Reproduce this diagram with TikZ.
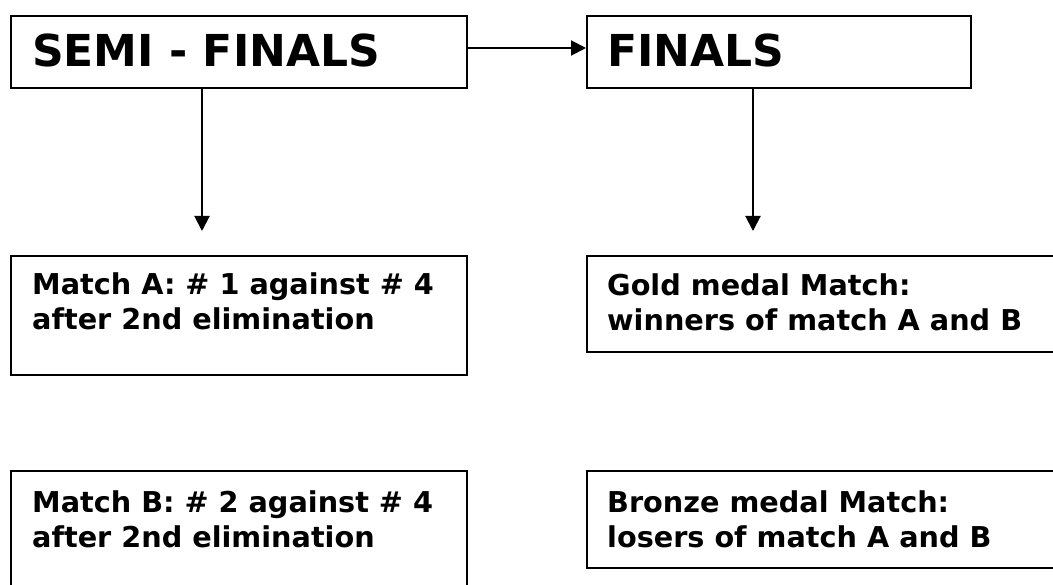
\documentclass[tikz,border=0pt]{standalone}
\usepackage{fontspec}
\setmainfont{DejaVu Sans}
\usetikzlibrary{arrows.meta}
\begin{document}
\begin{tikzpicture}[x=1pt,y=-1pt,
  box/.style={draw=black, line width=2.3pt, rectangle, inner sep=0pt, anchor=north west},
  big/.style={font=\bfseries\fontsize{44}{52}\selectfont, anchor=base west, inner sep=0pt},
  txt/.style={font=\bfseries\fontsize{28.7}{35}\selectfont, align=left, anchor=north west, inner sep=0pt},
  conn/.style={line width=2pt, -{Triangle[length=15pt,width=15pt]}}
]
\useasboundingbox (0,0) rectangle (1053,585);
\node[box, minimum width=456pt, minimum height=72pt] (semi) at (10,15) {};
\node[box, minimum width=384pt, minimum height=72pt] (fin) at (586,15) {};
\node[big] (semit) at (32,67) {SEMI - FINALS};
\node[big] (fint) at (607,67) {FINALS};

\node[box, minimum width=456pt, minimum height=119pt] (ma) at (10,255) {};
\node[box, minimum width=480pt, minimum height=96pt] (gold) at (586,255) {};
\node[box, minimum width=456pt, minimum height=130pt] (mb) at (10,470) {};
\node[box, minimum width=480pt, minimum height=97pt] (bronze) at (586,470) {};

\node[txt] (mat) at (32,272) {Match A: \# 1 against \# 4\\after 2nd elimination};
\node[txt] (goldt) at (607,273) {Gold medal Match:\\winners of match A and B};
\node[txt] (mbt) at (32,490) {Match B: \# 2 against \# 4\\after 2nd elimination};
\node[txt] (bronzet) at (607,490) {Bronze medal Match:\\losers of match A and B};

\coordinate (la) at (202,231);
\coordinate (ra) at (753,231);
\draw[conn] (semi.east |- 0,48) -- (fin.west |- 0,48);
\draw[conn] (semi.south -| la) -- (la);
\draw[conn] (fin.south -| ra) -- (ra);
\end{tikzpicture}
\end{document}
